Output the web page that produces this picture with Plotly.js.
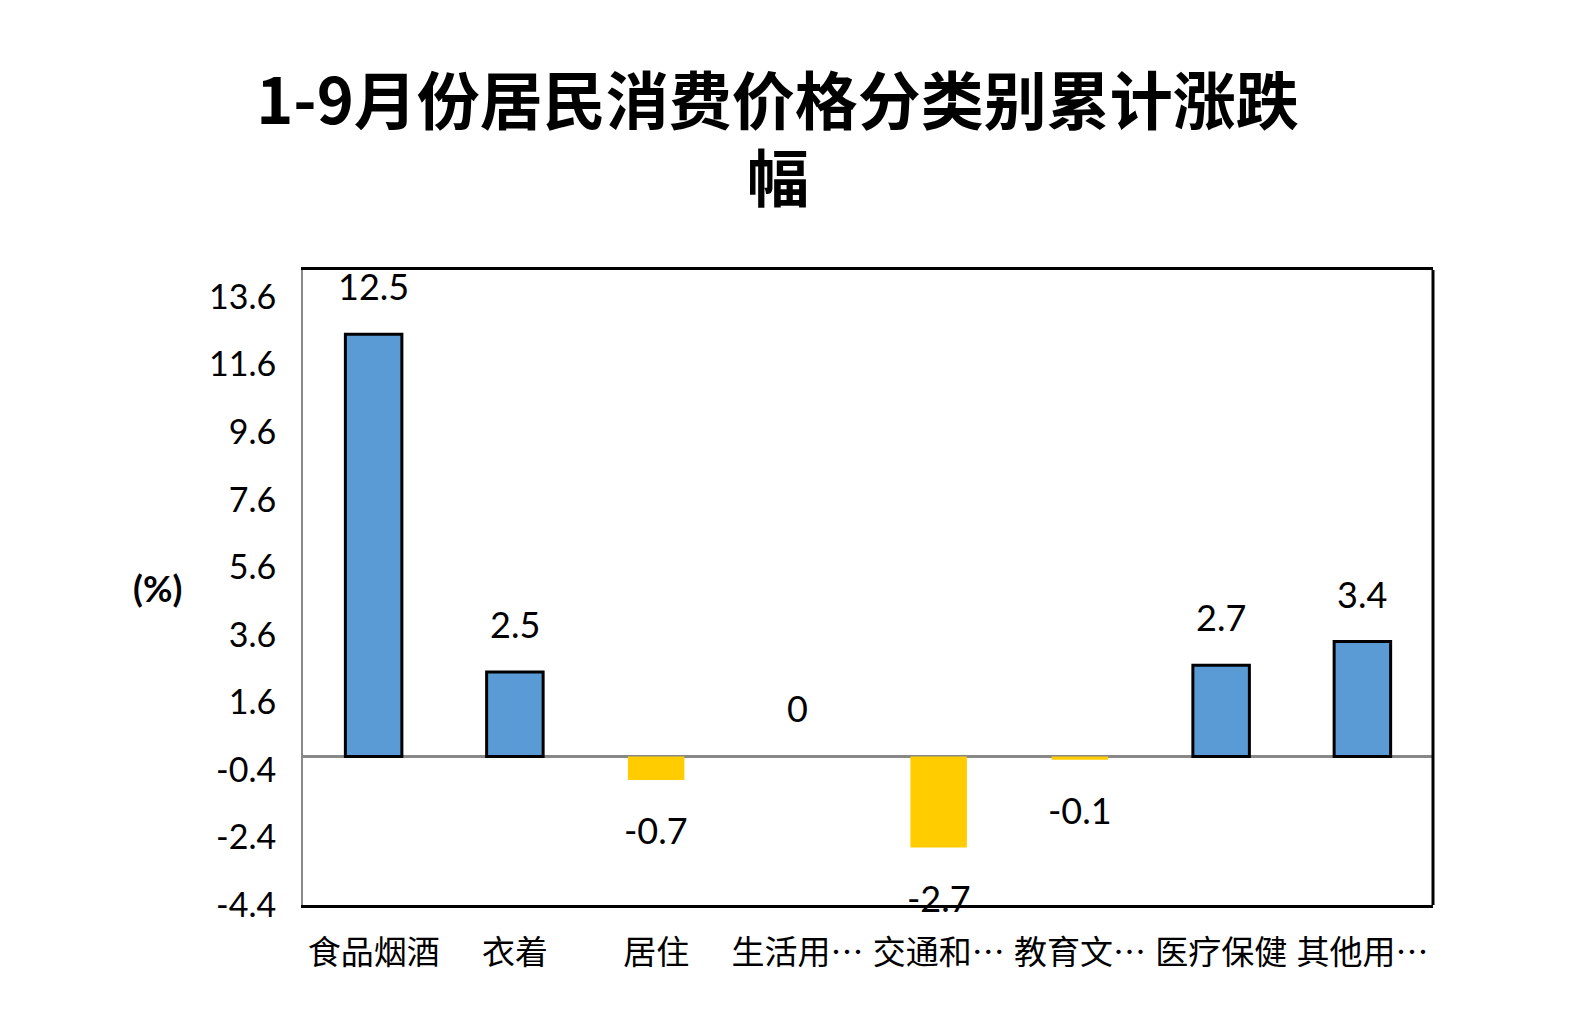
<!DOCTYPE html>
<html>
<head>
<meta charset="utf-8">
<script src="https://cdn.plot.ly/plotly-3.0.1.min.js"></script>
<style>
  html, body { margin: 0; padding: 0; background: #fff; }
  #chart { width: 1590px; height: 1019px; }
</style>
</head>
<body>
<div id="chart"></div>
<script>
// categories as shown on the axis (long names are cut off with …)
const categories = ['食品烟酒', '衣着', '居住', '生活用…', '交通和…', '教育文…', '医疗保健', '其他用…'];
// cumulative change, %
const values = [12.5, 2.5, -0.7, 0, -2.7, -0.1, 2.7, 3.4];
const yTicks = [-4.4, -2.4, -0.4, 1.6, 3.6, 5.6, 7.6, 9.6, 11.6, 13.6];

const numFont = 'Lato, "Noto Sans", sans-serif';
const cjkFont = '"Noto Sans CJK SC", sans-serif';

// blue with black outline for rises, yellow without outline for falls
let colors = values.map(v => v >= 0 ? '#5B9BD5' : '#FFCC00');
let lineWidths = values.map(v => v > 0 ? 3 : 0);

let trace = {
    x: categories,
    y: values,
    type: 'bar',
    width: 0.4,
    marker: {
        color: colors,
        line: { color: '#000', width: lineWidths }
    },
    hoverinfo: 'none'
};

// value labels sitting a fixed distance above / below each bar
let labels = values.map((v, i) => ({
    x: categories[i],
    y: v,
    xref: 'x',
    yref: 'y',
    text: String(v),
    showarrow: false,
    yshift: v >= 0 ? 48 : -50,
    font: { family: numFont, size: 36, color: '#000' }
}));

// unit label left of the axis
labels.push({
    xref: 'paper', yref: 'paper',
    x: -0.129, y: 0.5,
    xanchor: 'center', yanchor: 'middle',
    text: '<b>(%)</b>',
    showarrow: false,
    font: { family: numFont, size: 36, color: '#000' }
});

// second line of the title (wrapped word)
labels.push({
    xref: 'paper', yref: 'paper',
    x: 0.42, y: 1.149,
    xanchor: 'center', yanchor: 'middle',
    text: '<b>幅</b>',
    showarrow: false,
    font: { family: cjkFont, size: 62, color: '#000' }
});

let layout = {
    width: 1590,
    height: 1019,
    paper_bgcolor: '#fff',
    plot_bgcolor: '#fff',
    margin: { l: 303, r: 157, t: 270, b: 114 },
    showlegend: false,
    title: {
        text: '<b>1-9月份居民消费价格分类别累计涨跌</b>',
        xref: 'container', yref: 'container',
        x: 0.489, y: 0.9,
        xanchor: 'center', yanchor: 'middle',
        font: { family: cjkFont, size: 63, color: '#000' }
    },
    xaxis: {
        type: 'category',
        showgrid: false,
        showline: true,
        mirror: true,
        linecolor: '#000',
        linewidth: 3,
        ticks: 'outside',
        ticklen: 16,
        tickcolor: 'rgba(0,0,0,0)',
        tickfont: { family: cjkFont, size: 33, color: '#000' }
    },
    yaxis: {
        range: [-4.4, 14.4],
        tickvals: yTicks,
        ticktext: yTicks.map(t => t.toFixed(1)),
        showgrid: false,
        showline: true,
        linecolor: '#888',
        linewidth: 2,
        zeroline: true,
        zerolinecolor: '#888',
        zerolinewidth: 2.5,
        ticks: 'outside',
        ticklen: 18,
        tickcolor: 'rgba(0,0,0,0)',
        tickfont: { family: numFont, size: 34, color: '#000' }
    },
    shapes: [{
        type: 'line', xref: 'paper', yref: 'paper',
        x0: 1, x1: 1, y0: 0, y1: 1,
        line: { color: '#000', width: 3 }
    }],
    annotations: labels
};

Plotly.newPlot('chart', [trace], layout, { staticPlot: true });
</script>
</body>
</html>
